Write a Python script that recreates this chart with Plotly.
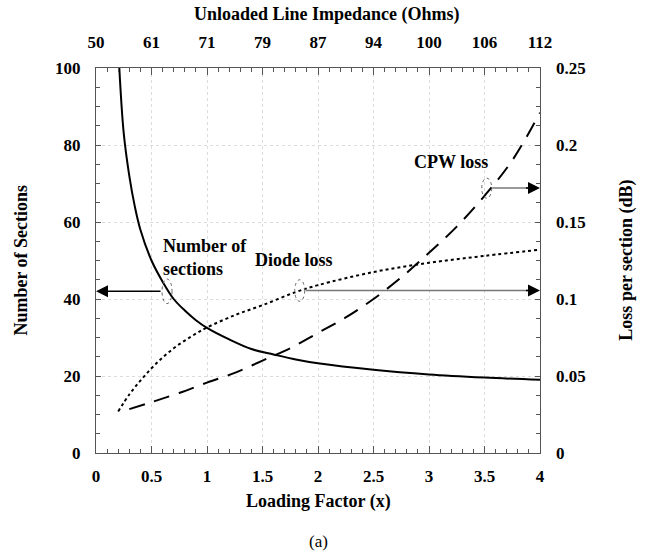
import plotly.graph_objects as go

# Loading factor sweep and the three curves
n_x = [0.21, 0.25, 0.3, 0.35, 0.4, 0.5, 0.6, 0.7, 0.8, 0.9, 1.0, 1.2, 1.4, 1.6, 1.8, 2.0, 2.5, 3.0, 3.5, 4.0]
n_sections = [100, 83, 72, 64, 58, 50, 44.5, 40, 37, 34.5, 32.5, 29.5, 27, 25.6, 24.3, 23.3, 21.6, 20.4, 19.6, 19.0]

diode_x = [0.2, 0.3, 0.4, 0.5, 0.6, 0.7, 0.8, 0.9, 1.0, 1.25, 1.5, 1.8, 2.0, 2.5, 3.0, 3.5, 4.0]
diode_loss = [0.027, 0.038, 0.047, 0.055, 0.062, 0.068, 0.073, 0.0775, 0.0815, 0.0895, 0.096, 0.1045, 0.109, 0.1175, 0.1235, 0.128, 0.132]

cpw_x = [0.3, 0.5, 0.75, 1.0, 1.25, 1.5, 1.75, 2.0, 2.25, 2.5, 2.75, 3.0, 3.25, 3.5, 3.75, 4.0]
cpw_loss = [0.0285, 0.033, 0.039, 0.0457, 0.052, 0.060, 0.068, 0.078, 0.088, 0.100, 0.114, 0.130, 0.147, 0.167, 0.190, 0.221]

x_ticks = [0, 0.5, 1, 1.5, 2, 2.5, 3, 3.5, 4]
impedance_labels = ["50", "61", "71", "79", "87", "94", "100", "106", "112"]

FONT = "Liberation Serif"
BOLD = dict(family=FONT, size=17, color="black", weight="bold")
TICKC = "#555"

fig = go.Figure()
fig.add_trace(go.Scatter(x=n_x, y=n_sections, mode="lines", yaxis="y",
                         line=dict(color="black", width=2), line_shape="spline",
                         name="Number of sections"))
fig.add_trace(go.Scatter(x=diode_x, y=diode_loss, mode="lines", yaxis="y2",
                         line=dict(color="black", width=2, dash="dot"), line_shape="spline",
                         name="Diode loss"))
fig.add_trace(go.Scatter(x=cpw_x, y=cpw_loss, mode="lines", yaxis="y2",
                         line=dict(color="black", width=2, dash="16px,10px"), line_shape="spline",
                         name="CPW loss"))
# empty trace that binds the top impedance axis
fig.add_trace(go.Scatter(x=x_ticks, y=[None] * len(x_ticks), xaxis="x2", yaxis="y",
                         mode="lines", hoverinfo="skip", showlegend=False))

grid = dict(showgrid=True, gridcolor="#dcdcdc", griddash="dot", gridwidth=1)

fig.update_layout(
    width=650, height=557,
    margin=dict(l=96, r=110, t=68, b=104),
    paper_bgcolor="white", plot_bgcolor="white",
    showlegend=False,
    xaxis=dict(range=[0, 4], tickvals=x_ticks, ticks="inside", ticklen=7,
               tickcolor=TICKC, showline=True, linecolor="#555", linewidth=1,
               mirror="ticks", tickfont=BOLD, zeroline=False, ticklabelstandoff=8,
               minor=dict(dtick=0.1, ticks="inside", ticklen=4, tickcolor=TICKC, showgrid=False),
               **grid),
    xaxis2=dict(range=[0, 4], overlaying="x", side="top", anchor="y",
                tickvals=x_ticks, ticktext=impedance_labels, ticks="",
                showgrid=False, showline=False, tickfont=BOLD, zeroline=False,
                ticklabelstandoff=16),
    yaxis=dict(range=[0, 100], dtick=20, ticks="inside", ticklen=5,
               tickcolor=TICKC, showline=True, linecolor="#555", linewidth=1,
               mirror="ticks", tickfont=BOLD, zeroline=False, ticklabelstandoff=11,
               minor=dict(dtick=5, ticks="inside", ticklen=4, tickcolor=TICKC, showgrid=False),
               **grid),
    yaxis2=dict(range=[0, 0.25], dtick=0.05, overlaying="y", side="right",
                ticks="", showgrid=False, showline=False, tickfont=BOLD,
                zeroline=False, ticklabelstandoff=15),
)

def ann(text, x, y, size=18, weight="bold", **kw):
    fig.add_annotation(text=text, x=x, y=y, xref="paper", yref="paper",
                       xanchor="center", yanchor="middle", showarrow=False,
                       font=dict(family=FONT, size=size, color="black", weight=weight), **kw)

# axis titles
ann("Unloaded Line Impedance (Ohms)", 0.52, 1.14)
ann("Loading Factor (x)", 0.5, -0.125)
ann("(a)", 0.5, -0.229, size=17, weight="normal")
ann("Number of Sections", -0.171, 0.5, textangle=-90)
ann("Loss per section (dB)", 1.194, 0.5, textangle=-90)

# curve labels
lab = dict(family=FONT, size=18, color="black", weight="bold")
fig.add_annotation(text="Number of<br>sections", x=0.59, y=44.8, xref="x", yref="y",
                   xanchor="left", yanchor="bottom", align="left", showarrow=False, font=lab)
fig.add_annotation(text="Diode loss", x=1.41, y=47, xref="x", yref="y",
                   xanchor="left", yanchor="bottom", showarrow=False, font=lab)
fig.add_annotation(text="CPW loss", x=2.85, y=0.181, xref="x", yref="y2",
                   xanchor="left", yanchor="bottom", showarrow=False, font=lab)

# marker ellipses around each curve
ell = dict(type="circle", line=dict(color="#666", width=1, dash="dot"), layer="above")
fig.add_shape(x0=0.595, x1=0.685, y0=38.8, y1=45.2, xref="x", yref="y", **ell)
fig.add_shape(x0=1.79, x1=1.88, y0=0.0985, y1=0.1125, xref="x", yref="y2", **ell)
fig.add_shape(x0=3.475, x1=3.565, y0=0.1655, y1=0.1785, xref="x", yref="y2", **ell)

# pointer lines toward the relevant axis
fig.add_shape(type="line", x0=1.89, x1=3.9, y0=0.1055, y1=0.1055, xref="x", yref="y2",
              line=dict(color="#777", width=1.5))
fig.add_shape(type="line", x0=3.57, x1=3.9, y0=0.172, y1=0.172, xref="x", yref="y2",
              line=dict(color="#777", width=1.5))

head = dict(showarrow=True, arrowhead=2, arrowsize=1.6, arrowwidth=1.5, arrowcolor="black", text="")
fig.add_annotation(x=0.0, y=42, ax=0.595, ay=42, xref="x", yref="y", axref="x", ayref="y", **head)
fig.add_annotation(x=4.0, y=0.1055, ax=3.86, ay=0.1055, xref="x", yref="y2", axref="x", ayref="y2", **head)
fig.add_annotation(x=4.0, y=0.172, ax=3.86, ay=0.172, xref="x", yref="y2", axref="x", ayref="y2", **head)

fig.write_html("out.html")
